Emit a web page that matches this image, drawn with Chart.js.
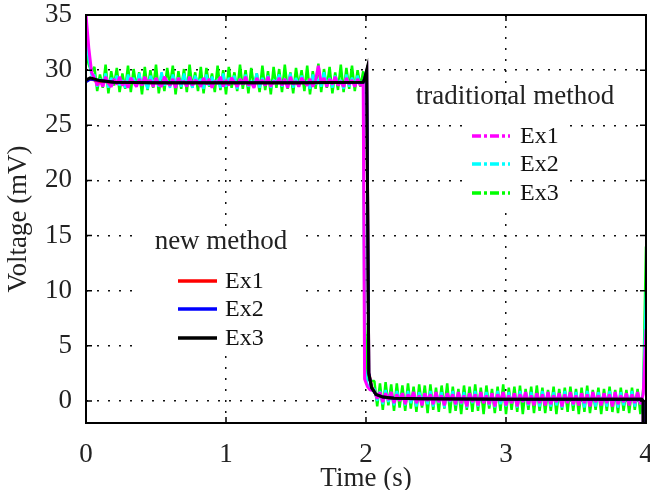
<!DOCTYPE html>
<html>
<head>
<meta charset="utf-8">
<style>
  html, body { margin: 0; padding: 0; background: #fff; }
  #wrap { width: 650px; height: 490px; }
</style>
</head>
<body>
<div id="wrap"><canvas id="myChart" width="650" height="490"></canvas></div>
<script src="https://cdn.jsdelivr.net/npm/chart.js@4.4.1/dist/chart.umd.min.js"></script>
<script>
  // ---- traditional method (noisy, dash-dot) ----
  // sample times: start transient, first plateau, drop at ~2 s, second plateau, jump at 4 s
  const tradTime = [
    0, 0.02, 0.04,
    0.06, 0.08, 0.10, 0.12, 0.14, 0.16, 0.18, 0.20, 0.22, 0.24,
    0.26, 0.28, 0.30, 0.32, 0.34, 0.36, 0.38, 0.40, 0.42, 0.44,
    0.46, 0.48, 0.50, 0.52, 0.54, 0.56, 0.58, 0.60, 0.62, 0.64,
    0.66, 0.68, 0.70, 0.72, 0.74, 0.76, 0.78, 0.80, 0.82, 0.84,
    0.86, 0.88, 0.90, 0.92, 0.94, 0.96, 0.98, 1.00, 1.02, 1.04,
    1.06, 1.08, 1.10, 1.12, 1.14, 1.16, 1.18, 1.20, 1.22, 1.24,
    1.26, 1.28, 1.30, 1.32, 1.34, 1.36, 1.38, 1.40, 1.42, 1.44,
    1.46, 1.48, 1.50, 1.52, 1.54, 1.56, 1.58, 1.60, 1.62, 1.64,
    1.66, 1.68, 1.70, 1.72, 1.74, 1.76, 1.78, 1.80, 1.82, 1.84,
    1.86, 1.88, 1.90, 1.92, 1.94, 1.96,
    1.98, 1.99, 2.01, 2.03,
    2.06, 2.08, 2.10, 2.12, 2.14, 2.16, 2.18, 2.20, 2.22, 2.24,
    2.26, 2.28, 2.30, 2.32, 2.34, 2.36, 2.38, 2.40, 2.42, 2.44,
    2.46, 2.48, 2.50, 2.52, 2.54, 2.56, 2.58, 2.60, 2.62, 2.64,
    2.66, 2.68, 2.70, 2.72, 2.74, 2.76, 2.78, 2.80, 2.82, 2.84,
    2.86, 2.88, 2.90, 2.92, 2.94, 2.96, 2.98, 3.00, 3.02, 3.04,
    3.06, 3.08, 3.10, 3.12, 3.14, 3.16, 3.18, 3.20, 3.22, 3.24,
    3.26, 3.28, 3.30, 3.32, 3.34, 3.36, 3.38, 3.40, 3.42, 3.44,
    3.46, 3.48, 3.50, 3.52, 3.54, 3.56, 3.58, 3.60, 3.62, 3.64,
    3.66, 3.68, 3.70, 3.72, 3.74, 3.76, 3.78, 3.80, 3.82, 3.84,
    3.86, 3.88, 3.90, 3.92, 3.94, 3.96, 3.98,
    4.0
  ];
  const tradEx1 = [
    35.0, 32.0, 29.8,
    29.3, 28.6, 29.1, 28.5, 29.4, 28.8, 28.5, 29.2, 28.7, 29.4,
    28.6, 29.0, 28.4, 29.3, 28.9, 28.5, 29.2, 28.6, 29.4, 28.8,
    29.1, 28.5, 29.3, 28.7, 28.5, 29.4, 28.9, 28.6, 29.2, 28.4,
    29.3, 28.8, 29.0, 28.5, 29.4, 28.6, 29.1, 28.9, 28.5, 29.3,
    28.7, 29.2, 28.4, 29.0, 28.8, 29.4, 28.5, 29.1, 28.6, 29.3,
    28.9, 28.5, 29.2, 28.7, 29.4, 28.6, 28.9, 28.4, 29.3, 28.8,
    29.1, 28.6, 29.4, 28.5, 29.0, 28.8, 29.3, 28.6, 29.2, 28.4,
    29.4, 28.7, 29.0, 28.5, 29.3, 28.9, 28.6, 29.2, 28.5, 29.1,
    30.4, 28.8, 29.3, 28.5, 29.2, 28.7, 29.4, 28.6, 29.0, 28.5,
    29.3, 28.7, 29.1, 28.5, 29.2, 28.6,
    28.8, 2.0, 1.3, 1.0,
    0.9, 0.2, 0.8, -0.1, 0.7, 0.1, 0.8, -0.2, 0.6, 0.0,
    0.7, -0.3, 0.6, 0.1, 0.8, -0.2, 0.5, -0.4, 0.7, 0.0,
    0.6, -0.3, 0.8, -0.1, 0.5, -0.4, 0.7, 0.0, 0.6, -0.3,
    0.8, -0.2, 0.5, -0.5, 0.7, -0.1, 0.6, -0.4, 0.8, -0.2,
    0.5, -0.3, 0.7, -0.5, 0.6, 0.0, 0.8, -0.4, 0.5, -0.2,
    0.7, -0.5, 0.6, -0.1, 0.8, -0.3, 0.5, -0.4, 0.7, -0.2,
    0.6, -0.4, 0.8, -0.3, 0.5, -0.1, 0.7, -0.5, 0.6, -0.2,
    0.8, -0.3, 0.5, -0.4, 0.7, -0.2, 0.6, -0.5, 0.8, -0.1,
    0.5, -0.4, 0.7, -0.2, 0.6, -0.5, 0.8, -0.3, 0.5, -0.1,
    0.7, -0.4, 0.6, -0.2, 0.8, -0.3, 0.6,
    6.5
  ];
  const tradEx2 = [
    33.5, 31.0, 29.5,
    29.6, 28.5, 29.2, 28.8, 29.7, 28.4, 29.3, 28.9, 29.5, 28.6,
    29.1, 28.4, 29.6, 28.8, 29.3, 28.5, 29.7, 28.7, 29.0, 28.3,
    29.5, 28.9, 29.2, 28.5, 29.8, 28.6, 29.1, 28.4, 29.6, 28.8,
    29.3, 28.5, 29.7, 28.7, 29.0, 28.4, 29.5, 28.9, 29.2, 28.3,
    29.6, 28.6, 29.4, 28.8, 29.1, 28.4, 29.7, 28.5, 29.3, 28.9,
    29.5, 28.3, 29.2, 28.7, 29.6, 28.5, 29.0, 28.8, 29.7, 28.4,
    29.3, 28.6, 29.5, 28.4, 29.1, 28.9, 29.6, 28.5, 29.2, 28.7,
    29.7, 28.4, 29.3, 28.6, 29.5, 28.8, 29.0, 28.3, 29.6, 28.7,
    29.2, 28.5, 29.8, 28.6, 29.3, 28.4, 29.5, 28.8, 29.1, 28.3,
    29.6, 28.5, 29.3, 28.7, 29.5, 28.6,
    29.0, 3.0, 1.5, 1.1,
    1.1, 0.0, 0.9, -0.3, 1.0, -0.1, 0.8, -0.4, 0.9, 0.1,
    0.7, -0.4, 0.9, -0.2, 0.6, -0.5, 0.8, 0.0, 0.7, -0.3,
    0.9, -0.5, 0.6, -0.2, 0.8, -0.6, 0.7, -0.1, 0.9, -0.4,
    0.6, -0.3, 0.8, -0.6, 0.7, -0.2, 0.9, -0.5, 0.6, -0.1,
    0.8, -0.4, 0.7, -0.6, 0.9, -0.3, 0.6, -0.5, 0.8, -0.2,
    0.7, -0.6, 0.9, -0.1, 0.6, -0.4, 0.8, -0.3, 0.7, -0.5,
    0.9, -0.2, 0.6, -0.5, 0.8, -0.4, 0.7, -0.6, 0.9, -0.1,
    0.6, -0.4, 0.8, -0.3, 0.7, -0.6, 0.9, -0.2, 0.6, -0.5,
    0.8, -0.3, 0.7, -0.5, 0.9, -0.2, 0.6, -0.6, 0.8, -0.4,
    0.7, -0.2, 0.9, -0.5, 0.6, -0.3, 0.7,
    9.9
  ];
  const tradEx3 = [
    31.5, 30.5, 29.8,
    30.3, 28.1, 29.6, 28.4, 30.5, 27.9, 29.9, 28.6, 30.2, 28.0,
    29.7, 28.3, 30.4, 28.0, 30.1, 28.5, 29.8, 27.8, 30.3, 28.2,
    30.0, 28.4, 30.5, 27.9, 29.7, 28.1, 30.2, 28.6, 30.4, 27.8,
    29.9, 28.3, 30.1, 28.0, 30.5, 28.4, 29.8, 28.1, 30.3, 27.9,
    30.2, 28.5, 29.7, 28.0, 30.4, 28.2, 30.0, 27.8, 30.3, 28.4,
    29.8, 28.1, 30.5, 28.3, 30.0, 27.9, 30.2, 28.5, 29.7, 28.0,
    30.4, 28.2, 29.9, 27.8, 30.3, 28.4, 30.1, 28.0, 30.5, 28.3,
    29.8, 27.9, 30.2, 28.5, 30.0, 28.1, 30.4, 27.8, 29.9, 28.3,
    30.6, 28.0, 30.1, 28.4, 30.3, 27.9, 29.8, 28.2, 30.5, 28.0,
    30.2, 28.3, 30.4, 28.1, 30.0, 28.5,
    29.9, 8.0, 2.0, 1.8,
    1.8, -0.5, 1.6, -0.8, 1.7, -0.4, 1.5, -0.9, 1.6, -0.6,
    1.4, -0.9, 1.6, -0.7, 1.3, -1.0, 1.5, -0.6, 1.4, -1.1,
    1.5, -0.8, 1.2, -1.0, 1.4, -0.7, 1.6, -1.1, 1.3, -0.9,
    1.1, -1.2, 1.4, -0.8, 1.3, -1.0, 1.5, -0.9, 1.2, -1.2,
    1.4, -0.7, 1.1, -1.1, 1.3, -0.9, 1.5, -1.2, 1.2, -0.8,
    1.3, -1.0, 1.4, -1.2, 1.1, -0.8, 1.3, -1.1, 1.4, -0.9,
    1.2, -1.1, 1.0, -0.9, 1.3, -1.2, 1.1, -0.8, 1.2, -1.0,
    1.3, -0.9, 1.1, -1.2, 1.2, -1.0, 1.4, -1.1, 1.0, -0.8,
    1.2, -1.2, 1.1, -0.9, 1.3, -1.0, 1.0, -1.1, 1.2, -0.9,
    1.0, -1.1, 1.2, -0.8, 1.1, -1.2, 1.0,
    14.0
  ];

  // ---- new method (smooth, solid) ----
  const newTime = [0, 0.03, 0.1, 0.2, 0.5, 1.0, 1.5, 1.98, 1.99, 2.005, 2.02, 2.04, 2.07, 2.12, 2.2, 2.4, 3.0, 3.97, 3.98, 3.98];
  const newEx1 = [29.0, 29.2, 29.0, 28.9, 28.85, 28.85, 28.85, 28.9, 29.2, 29.9, 2.6, 1.3, 0.6, 0.35, 0.25, 0.2, 0.15, 0.15, 0.0, -2.5];
  const newEx2 = [28.95, 29.2, 29.05, 28.9, 28.85, 28.85, 28.85, 28.9, 29.2, 29.9, 2.5, 1.2, 0.6, 0.35, 0.25, 0.2, 0.15, 0.15, 0.0, -2.5];
  const newEx3 = [29.1, 29.3, 29.05, 28.9, 28.85, 28.85, 28.85, 28.9, 29.2, 30.0, 2.5, 1.2, 0.6, 0.35, 0.25, 0.2, 0.15, 0.15, 0.0, -2.5];

  const xTicks = [0, 1, 2, 3, 4];
  const yTicks = [0, 5, 10, 15, 20, 25, 30, 35];
  const labels = ["Ex1", "Ex2", "Ex3"];

  const toXY = (xs, ys) => ys.map((y, i) => ({ x: xs[i], y: y }));
  const dashDot = [9, 3, 3, 3];
  const serif = "'Liberation Serif', 'Times New Roman', serif";

  // noisy traces are so dense that the dash-dot pattern only shows in the legend
  const datasets = [
    { label: labels[0], group: "new", data: toXY(newTime, newEx1), borderColor: "#ff0000", borderWidth: 3, order: 2 },
    { label: labels[1], group: "new", data: toXY(newTime, newEx2), borderColor: "#0000ff", borderWidth: 3, order: 1 },
    { label: labels[2], group: "new", data: toXY(newTime, newEx3), borderColor: "#000000", borderWidth: 3, order: 0 },
    { label: labels[0], group: "trad", legendDash: dashDot, data: toXY(tradTime, tradEx1), borderColor: "#ff00ff", borderWidth: 3, borderJoinStyle: "bevel", order: 3 },
    { label: labels[1], group: "trad", legendDash: dashDot, data: toXY(tradTime, tradEx2), borderColor: "#00ffff", borderWidth: 2.5, borderJoinStyle: "bevel", order: 4 },
    { label: labels[2], group: "trad", legendDash: dashDot, data: toXY(tradTime, tradEx3), borderColor: "#00ff00", borderWidth: 2.5, borderJoinStyle: "bevel", order: 5 },
  ];

  // box, inner ticks and the two legends
  const frame = {
    id: "frame",
    beforeDatasetsDraw(chart) {
      const c = chart.ctx;
      c.save();
      c.fillStyle = "#fff";
      c.fillRect(140, 228, 157, 124);
      c.fillRect(462, 112, 103, 94);
      c.restore();
    },
    afterDraw(chart) {
      const c = chart.ctx;
      const a = chart.chartArea;
      const xs = chart.scales.x, ys = chart.scales.y;
      c.save();
      c.strokeStyle = "#000";
      c.lineWidth = 1.5;
      c.setLineDash([]);
      c.beginPath();
      xTicks.forEach(v => {
        const px = xs.getPixelForValue(v);
        c.moveTo(px, a.bottom); c.lineTo(px, a.bottom - 6);
        c.moveTo(px, a.top); c.lineTo(px, a.top + 6);
      });
      yTicks.forEach(v => {
        const py = ys.getPixelForValue(v);
        c.moveTo(a.left, py); c.lineTo(a.left + 6, py);
        c.moveTo(a.right, py); c.lineTo(a.right - 6, py);
      });
      c.stroke();
      c.lineWidth = 2;
      c.strokeRect(a.left, a.top, a.right - a.left, a.bottom - a.top);

      // legends
      const drawLegend = (group, title, tx, ty, lx0, lx1, textX, rows) => {
        c.fillStyle = "#222";
        c.font = "27px " + serif;
        c.textAlign = "center";
        c.textBaseline = "middle";
        c.fillText(title, tx, ty);
        const items = chart.data.datasets.filter(d => d.group === group);
        items.forEach((d, i) => {
          c.strokeStyle = d.borderColor;
          c.lineWidth = 3.5;
          c.setLineDash(d.legendDash || []);
          c.beginPath();
          c.moveTo(lx0, rows[i]); c.lineTo(lx1, rows[i]);
          c.stroke();
          c.setLineDash([]);
          c.fillStyle = "#111";
          c.font = "24px " + serif;
          c.textAlign = "left";
          c.fillText(d.label, textX, rows[i] + 1);
        });
      };
      drawLegend("new", "new method", 221, 242, 178, 217, 225, [281, 309, 338]);
      drawLegend("trad", "traditional method", 515, 97, 472, 510, 520, [136, 164, 193]);
      c.restore();
    },
  };

  const ctx = document.getElementById("myChart").getContext("2d");
  const myChart = new Chart(ctx, {
    type: "line",
    data: { datasets: datasets },
    options: {
      responsive: false,
      animation: false,
      events: [],
      layout: { padding: { top: 15, right: 4, left: 0, bottom: 0 } },
      elements: { point: { radius: 0 }, line: { tension: 0, fill: false } },
      plugins: { legend: { display: false }, tooltip: { enabled: false } },
      scales: {
        x: {
          type: "linear",
          min: 0,
          max: 4,
          afterFit: s => { s.height = 67; s.paddingLeft = 0; s.paddingRight = 0; },
          ticks: { stepSize: 1, color: "#222", padding: 16, font: { family: serif, size: 27 } },
          grid: { color: "#111", lineWidth: 1.5, drawTicks: false },
          border: { display: false, dash: [2, 9] },
          title: { display: true, text: "Time (s)", color: "#222", padding: { top: 0, bottom: -5 }, font: { family: serif, size: 27 } },
        },
        y: {
          type: "linear",
          min: -2,
          max: 35,
          afterFit: s => { s.width = 86; s.paddingTop = 0; s.paddingBottom = 0; },
          ticks: { stepSize: 5, includeBounds: false, color: "#222", padding: 14, font: { family: serif, size: 27 } },
          grid: { color: "#111", lineWidth: 1.5, drawTicks: false },
          border: { display: false, dash: [2, 9] },
          title: { display: true, text: "Voltage (mV)", color: "#222", padding: { top: 3, bottom: 0 }, font: { family: serif, size: 27 } },
        },
      },
    },
    plugins: [frame],
  });
</script>
</body>
</html>
